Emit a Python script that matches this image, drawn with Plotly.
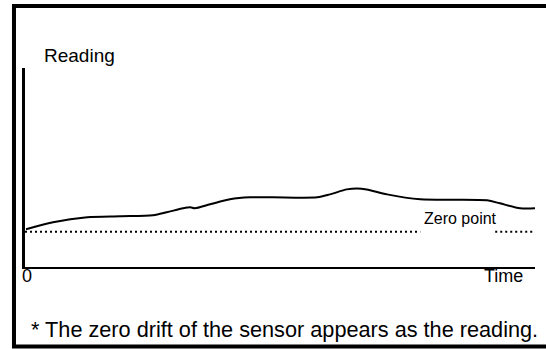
import plotly.graph_objects as go

# Sensor reading over time (arbitrary units)
time_pts = [0.2, 5.5, 12.2, 18.6, 25.1, 27.8, 31.0, 32.4, 33.3, 36.3, 40.2, 44.1,
            48.6, 57.3, 59.8, 63.1, 65.1, 67.0, 71.0, 77.5, 90.6, 93.1, 97.1, 100.0]
reading = [19.0, 22.5, 25.0, 25.5, 26.0, 27.5, 29.5, 30.0, 29.5, 31.5, 34.0, 35.0,
           35.0, 35.0, 36.5, 39.0, 39.5, 39.0, 36.5, 34.0, 33.5, 32.0, 29.5, 29.5]

# Zero point reference level and the two stretches where it is drawn
zero_level = 17.75
zero_seg1 = [0.0, 77.5]
zero_seg2 = [92.2, 100.0]

FONT = "Liberation Sans, Arial, sans-serif"

fig = go.Figure()

fig.add_trace(go.Scatter(
    x=time_pts, y=reading, mode="lines",
    line=dict(color="black", width=2, shape="spline", smoothing=0.8),
    hoverinfo="skip", showlegend=False,
))

for seg in (zero_seg1, zero_seg2):
    fig.add_trace(go.Scatter(
        x=seg, y=[zero_level, zero_level], mode="lines",
        line=dict(color="black", width=2, dash="2px,3px"),
        hoverinfo="skip", showlegend=False,
    ))

fig.update_layout(
    width=546, height=349,
    margin=dict(l=25, r=11, t=68, b=82),
    paper_bgcolor="white", plot_bgcolor="white",
    font=dict(family=FONT, color="black"),
    xaxis=dict(range=[0, 100], showgrid=False, zeroline=False, showticklabels=False,
               ticks="", showline=True, linecolor="black", linewidth=2),
    yaxis=dict(range=[0, 100], showgrid=False, zeroline=False, showticklabels=False,
               ticks="", showline=True, linecolor="black", linewidth=2.5),
    shapes=[dict(type="rect", xref="paper", yref="paper",
                 x0=-0.0216, x1=1.05, y0=-0.3995, y1=1.3116,
                 line=dict(color="black", width=4), fillcolor="rgba(0,0,0,0)")],
    annotations=[
        dict(text="Reading", xref="paper", yref="paper", x=0.0333, y=1.065,
             xanchor="left", yanchor="middle", showarrow=False, font=dict(size=19)),
        dict(text="0", xref="paper", yref="paper", x=0.004, y=-0.045,
             xanchor="center", yanchor="middle", showarrow=False, font=dict(size=18)),
        dict(text="Time", xref="paper", yref="paper", x=0.939, y=-0.045,
             xanchor="center", yanchor="middle", showarrow=False, font=dict(size=18)),
        dict(text="Zero point", xref="paper", yref="paper", x=0.853, y=0.246,
             xanchor="center", yanchor="middle", showarrow=False, font=dict(size=16)),
        dict(text="* The zero drift of the sensor appears as the reading.",
             xref="paper", yref="paper", x=0.0078, y=-0.3116,
             xanchor="left", yanchor="middle", showarrow=False, font=dict(size=21.7)),
    ],
)

fig.write_html("out.html")
